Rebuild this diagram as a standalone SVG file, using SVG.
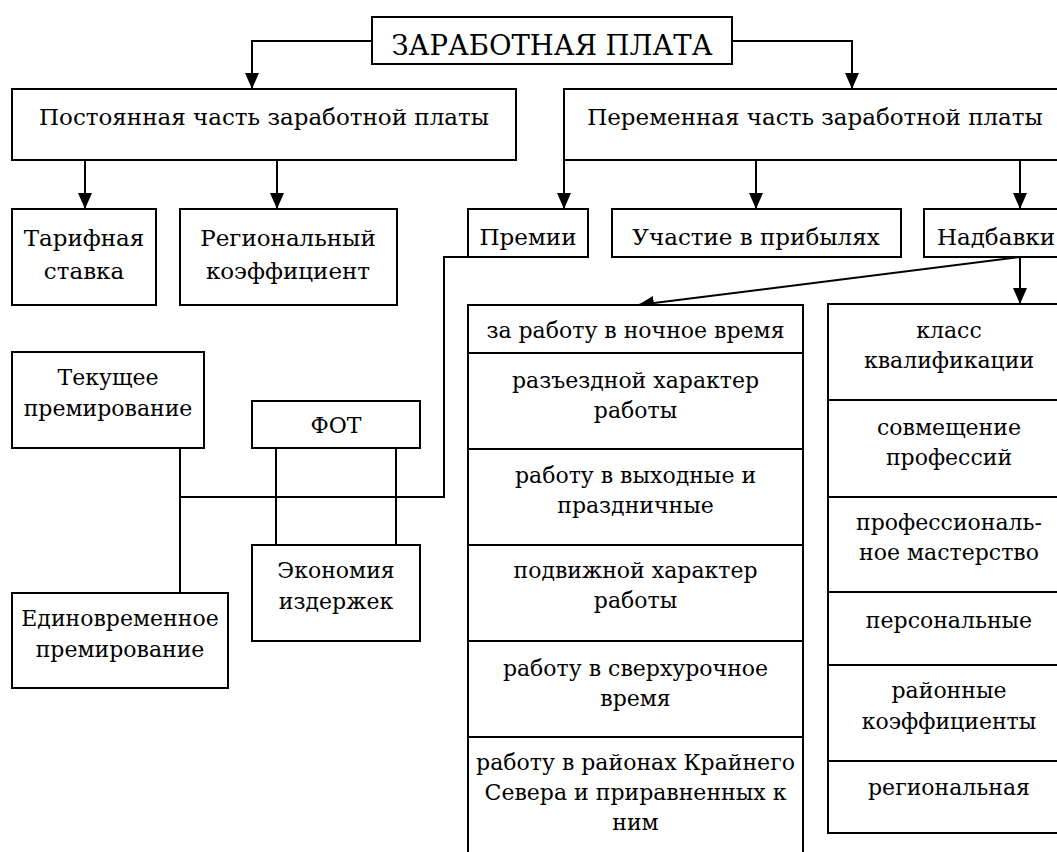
<svg xmlns="http://www.w3.org/2000/svg" width="1057" height="852" viewBox="0 0 1057 852">
  <defs>
    <marker id="arrow" viewBox="0 0 16 14" refX="16" refY="7" markerWidth="16" markerHeight="14" markerUnits="userSpaceOnUse" orient="auto">
      <path d="M0,0 L16,7 L0,14 Z" fill="#000000"/>
    </marker>
  </defs>

  <rect width="1057" height="852" fill="#ffffff"/>

  <!-- connectors -->
  <g id="connectors" fill="none" stroke="#000000" stroke-width="2">
    <path d="M372,41 H252 V89" marker-end="url(#arrow)"/>
    <path d="M732,41 H852 V89" marker-end="url(#arrow)"/>
    <path d="M85,160 V209" marker-end="url(#arrow)"/>
    <path d="M277,160 V209" marker-end="url(#arrow)"/>
    <path d="M564,160 V209" marker-end="url(#arrow)"/>
    <path d="M756,160 V209" marker-end="url(#arrow)"/>
    <path d="M1020,160 V209" marker-end="url(#arrow)"/>
    <path d="M1020,257 V304" marker-end="url(#arrow)"/>
    <path d="M1020,257 L638,305" marker-end="url(#arrow)"/>
    <path d="M468,257 H444 V497 H180"/>
    <path d="M180,448 V593"/>
    <path d="M276,448 V545"/>
    <path d="M396,448 V545"/>
  </g>

  <g id="nodes">
  <g id="node-zp">
    <rect x="372" y="17" width="360" height="47" fill="#ffffff" stroke="#000000" stroke-width="2"/>
    <text x="552" y="55" font-size="27.5" text-anchor="middle" style="font-family:'DejaVu Serif',serif">ЗАРАБОТНАЯ ПЛАТА</text>
  </g>
  <g id="node-const">
    <rect x="12" y="89" width="504" height="71" fill="#ffffff" stroke="#000000" stroke-width="2"/>
    <text x="264" y="125" font-size="23" text-anchor="middle" style="font-family:'DejaVu Serif',serif">Постоянная часть заработной платы</text>
  </g>
  <g id="node-var">
    <rect x="564" y="89" width="510" height="71" fill="#ffffff" stroke="#000000" stroke-width="2"/>
    <text x="815" y="125" font-size="23" text-anchor="middle" style="font-family:'DejaVu Serif',serif">Переменная часть заработной платы</text>
  </g>

  <!-- constant part -->
  <g id="node-tariff">
    <rect x="12" y="209" width="144" height="96" fill="#ffffff" stroke="#000000" stroke-width="2"/>
    <text x="84" y="246" font-size="23" text-anchor="middle" style="font-family:'DejaVu Serif',serif">Тарифная</text>
    <text x="84" y="279" font-size="23" text-anchor="middle" style="font-family:'DejaVu Serif',serif">ставка</text>
  </g>
  <g id="node-regcoef">
    <rect x="180" y="209" width="217" height="96" fill="#ffffff" stroke="#000000" stroke-width="2"/>
    <text x="288" y="246" font-size="23" text-anchor="middle" style="font-family:'DejaVu Serif',serif">Региональный</text>
    <text x="288" y="279" font-size="23" text-anchor="middle" style="font-family:'DejaVu Serif',serif">коэффициент</text>
  </g>

  <!-- variable part -->
  <g id="node-bonus">
    <rect x="468" y="209" width="120" height="48" fill="#ffffff" stroke="#000000" stroke-width="2"/>
    <text x="528" y="245" font-size="23" text-anchor="middle" style="font-family:'DejaVu Serif',serif">Премии</text>
  </g>
  <g id="node-profit">
    <rect x="612" y="209" width="289" height="48" fill="#ffffff" stroke="#000000" stroke-width="2"/>
    <text x="756" y="245" font-size="23" text-anchor="middle" style="font-family:'DejaVu Serif',serif">Участие в прибылях</text>
  </g>
  <g id="node-allow">
    <rect x="924" y="209" width="150" height="48" fill="#ffffff" stroke="#000000" stroke-width="2"/>
    <text x="996" y="245" font-size="23" text-anchor="middle" style="font-family:'DejaVu Serif',serif">Надбавки</text>
  </g>

  <!-- bonus breakdown -->
  <g id="node-current">
    <rect x="12" y="352" width="192" height="96" fill="#ffffff" stroke="#000000" stroke-width="2"/>
    <text x="108" y="385" font-size="22" text-anchor="middle" style="font-family:'DejaVu Serif',serif">Текущее</text>
    <text x="108" y="416" font-size="22" text-anchor="middle" style="font-family:'DejaVu Serif',serif">премирование</text>
  </g>
  <g id="node-fot">
    <rect x="252" y="401" width="168" height="47" fill="#ffffff" stroke="#000000" stroke-width="2"/>
    <text x="336" y="433" font-size="22" text-anchor="middle" style="font-family:'DejaVu Serif',serif">ФОТ</text>
  </g>
  <g id="node-saving">
    <rect x="252" y="545" width="168" height="96" fill="#ffffff" stroke="#000000" stroke-width="2"/>
    <text x="336" y="578" font-size="22" text-anchor="middle" style="font-family:'DejaVu Serif',serif">Экономия</text>
    <text x="336" y="609" font-size="22" text-anchor="middle" style="font-family:'DejaVu Serif',serif">издержек</text>
  </g>
  <g id="node-onetime">
    <rect x="12" y="593" width="216" height="95" fill="#ffffff" stroke="#000000" stroke-width="2"/>
    <text x="120" y="626" font-size="22" text-anchor="middle" style="font-family:'DejaVu Serif',serif">Единовременное</text>
    <text x="120" y="657" font-size="22" text-anchor="middle" style="font-family:'DejaVu Serif',serif">премирование</text>
  </g>

  <!-- allowances: conditions of work -->
  <g id="node-conditions">
    <rect x="468" y="305" width="335" height="48" fill="#ffffff" stroke="#000000" stroke-width="2"/>
    <rect x="468" y="353" width="335" height="96" fill="#ffffff" stroke="#000000" stroke-width="2"/>
    <rect x="468" y="449" width="335" height="96" fill="#ffffff" stroke="#000000" stroke-width="2"/>
    <rect x="468" y="545" width="335" height="96" fill="#ffffff" stroke="#000000" stroke-width="2"/>
    <rect x="468" y="641" width="335" height="96" fill="#ffffff" stroke="#000000" stroke-width="2"/>
    <rect x="468" y="737" width="335" height="130" fill="#ffffff" stroke="#000000" stroke-width="2"/>
    <text x="635.5" y="338" font-size="22" text-anchor="middle" style="font-family:'DejaVu Serif',serif">за работу в ночное время</text>
    <text x="635.5" y="388" font-size="22" text-anchor="middle" style="font-family:'DejaVu Serif',serif">разъездной характер</text>
    <text x="635.5" y="418" font-size="22" text-anchor="middle" style="font-family:'DejaVu Serif',serif">работы</text>
    <text x="635.5" y="483" font-size="22" text-anchor="middle" style="font-family:'DejaVu Serif',serif">работу в выходные и</text>
    <text x="635.5" y="513" font-size="22" text-anchor="middle" style="font-family:'DejaVu Serif',serif">праздничные</text>
    <text x="635.5" y="578" font-size="22" text-anchor="middle" style="font-family:'DejaVu Serif',serif">подвижной характер</text>
    <text x="635.5" y="608" font-size="22" text-anchor="middle" style="font-family:'DejaVu Serif',serif">работы</text>
    <text x="635.5" y="676" font-size="22" text-anchor="middle" style="font-family:'DejaVu Serif',serif">работу в сверхурочное</text>
    <text x="635.5" y="706" font-size="22" text-anchor="middle" style="font-family:'DejaVu Serif',serif">время</text>
    <text x="635.5" y="770" font-size="22" text-anchor="middle" style="font-family:'DejaVu Serif',serif">работу в районах Крайнего</text>
    <text x="635.5" y="800" font-size="22" text-anchor="middle" style="font-family:'DejaVu Serif',serif">Севера и приравненных к</text>
    <text x="635.5" y="830" font-size="22" text-anchor="middle" style="font-family:'DejaVu Serif',serif">ним</text>
  </g>

  <!-- allowances: personal -->
  <g id="node-personal">
    <rect x="828" y="304" width="242" height="96" fill="#ffffff" stroke="#000000" stroke-width="2"/>
    <rect x="828" y="400" width="242" height="97" fill="#ffffff" stroke="#000000" stroke-width="2"/>
    <rect x="828" y="497" width="242" height="95" fill="#ffffff" stroke="#000000" stroke-width="2"/>
    <rect x="828" y="592" width="242" height="73" fill="#ffffff" stroke="#000000" stroke-width="2"/>
    <rect x="828" y="665" width="242" height="96" fill="#ffffff" stroke="#000000" stroke-width="2"/>
    <rect x="828" y="761" width="242" height="72" fill="#ffffff" stroke="#000000" stroke-width="2"/>
    <text x="949" y="338" font-size="22" text-anchor="middle" style="font-family:'DejaVu Serif',serif">класс</text>
    <text x="949" y="368" font-size="22" text-anchor="middle" style="font-family:'DejaVu Serif',serif">квалификации</text>
    <text x="949" y="435" font-size="22" text-anchor="middle" style="font-family:'DejaVu Serif',serif">совмещение</text>
    <text x="949" y="465" font-size="22" text-anchor="middle" style="font-family:'DejaVu Serif',serif">профессий</text>
    <text x="949" y="530" font-size="22" text-anchor="middle" style="font-family:'DejaVu Serif',serif">профессиональ-</text>
    <text x="949" y="560" font-size="22" text-anchor="middle" style="font-family:'DejaVu Serif',serif">ное мастерство</text>
    <text x="949" y="628" font-size="22" text-anchor="middle" style="font-family:'DejaVu Serif',serif">персональные</text>
    <text x="949" y="698" font-size="22" text-anchor="middle" style="font-family:'DejaVu Serif',serif">районные</text>
    <text x="949" y="729" font-size="22" text-anchor="middle" style="font-family:'DejaVu Serif',serif">коэффициенты</text>
    <text x="949" y="795" font-size="22" text-anchor="middle" style="font-family:'DejaVu Serif',serif">региональная</text>
  </g>
  </g>
</svg>
